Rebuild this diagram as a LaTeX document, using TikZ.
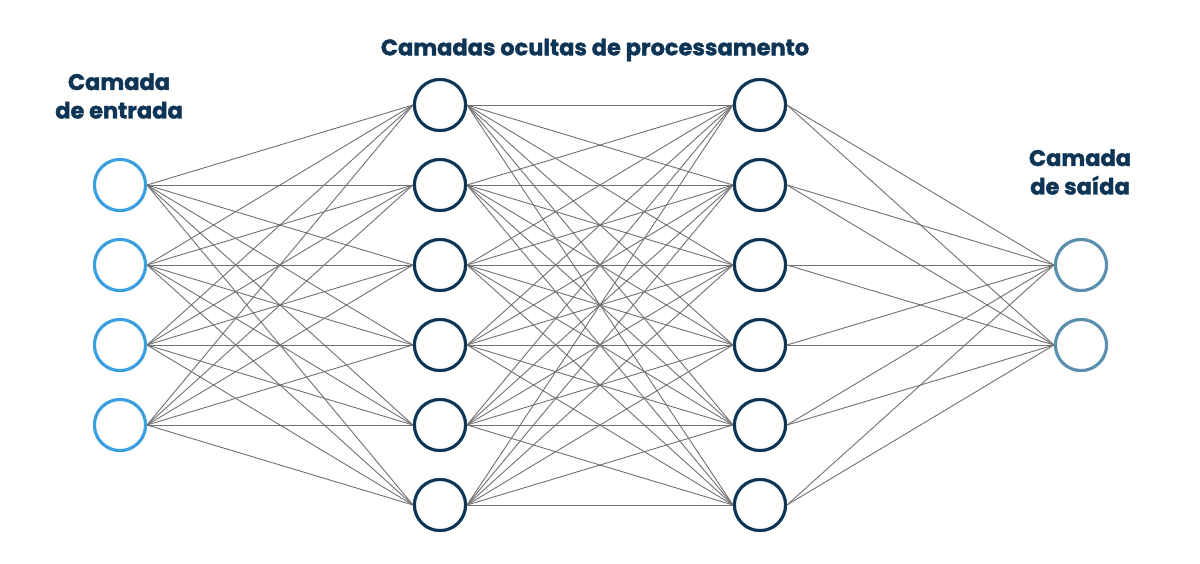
\documentclass[tikz,border=0pt]{standalone}
\usepackage{fontspec}
\setmainfont{Poppins}
\definecolor{navy}{HTML}{0E3556}
\definecolor{inblue}{HTML}{3A9FDF}
\definecolor{outblue}{HTML}{5A8FAF}
\definecolor{edgegray}{HTML}{707070}
\begin{document}
\begin{tikzpicture}[x=1pt,y=-1pt,
  neuron/.style={circle,minimum size=51pt,inner sep=0pt,line width=3pt,fill=white},
  inneuron/.style={neuron,draw=inblue},
  hidneuron/.style={neuron,draw=navy},
  outneuron/.style={neuron,draw=outblue},
  edge/.style={draw=edgegray,line width=0.9pt},
  lbl/.style={font=\addfontfeatures{FakeBold=1.5}\bfseries\fontsize{22.5}{28.5}\selectfont,text=navy,align=center}]
\useasboundingbox (0,0) rectangle (1200,563);
% nodes
\foreach \i/\y in {1/185,2/265,3/345,4/425}
  \node[inneuron] (a\i) at (120,\y) {};
\foreach \i/\y in {1/105,2/185,3/265,4/345,5/425,6/505}{
  \node[hidneuron] (b\i) at (440,\y) {};
  \node[hidneuron] (c\i) at (760,\y) {};
}
\foreach \i/\y in {1/265,2/345}
  \node[outneuron] (d\i) at (1081,\y) {};
% edges
\foreach \i in {1,...,4}
  \foreach \j in {1,...,6}
    \draw[edge] (a\i.east) -- (b\j.west);
\foreach \i in {1,...,6}
  \foreach \j in {1,...,6}
    \draw[edge] (b\i.east) -- (c\j.west);
\foreach \i in {1,...,6}
  \foreach \j in {1,2}
    \draw[edge] (c\i.east) -- (d\j.west);
% redraw nodes on top
\foreach \i in {1,...,4}
  \node[inneuron] at (a\i) {};
\foreach \i in {1,...,6}{
  \node[hidneuron] at (b\i) {};
  \node[hidneuron] at (c\i) {};
}
\foreach \i in {1,2}
  \node[outneuron] at (d\i) {};
% labels
\node[lbl] (lin) at (119,96) {Camada\\de entrada};
\node[lbl] (lhid) at (595,50) {Camadas ocultas de processamento};
\node[lbl] (lout) at (1080,172) {Camada\\de saída};
\end{tikzpicture}
\end{document}
